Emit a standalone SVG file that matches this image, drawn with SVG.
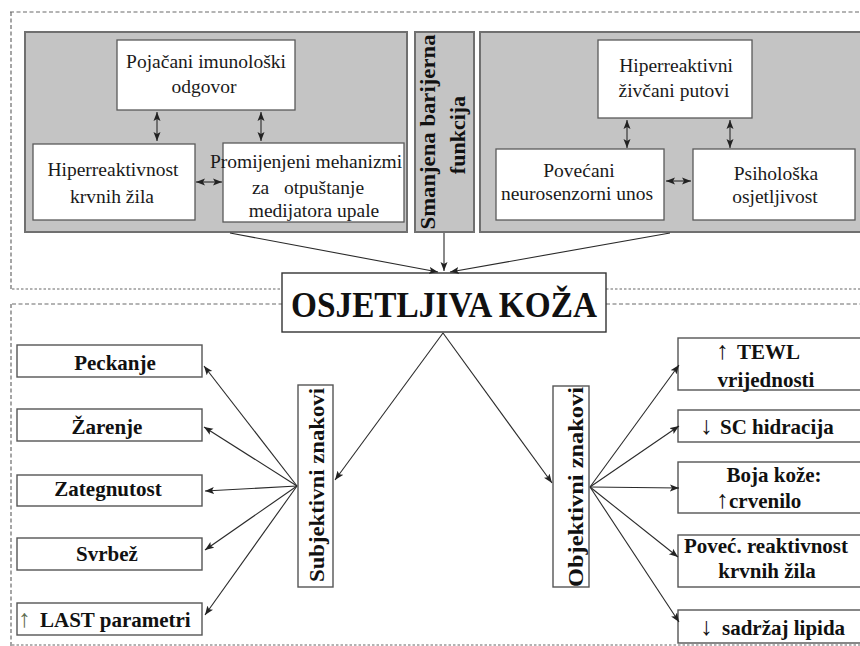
<svg xmlns="http://www.w3.org/2000/svg" width="860" height="646" viewBox="0 0 860 646">
<defs>
<marker id="ah" markerUnits="userSpaceOnUse" markerWidth="10" markerHeight="8" refX="9" refY="4" orient="auto-start-reverse" viewBox="0 0 10 8">
<path d="M0,0.5 L9,4 L0,7.5 L2,4 z" fill="#222"/>
</marker>
</defs>
<style>
.frame-d{fill:none;stroke:#6a6a6a;stroke-width:1.2;stroke-dasharray:4 2.5}
.frame-p{fill:none;stroke:#9a9a9a;stroke-width:1.6;stroke-dasharray:2.5 2}
.panel{fill:#c4c4c4;stroke:#707070;stroke-width:2}
.box{fill:#fff;stroke:#5a5a5a;stroke-width:1.3}
.bbox{fill:#fff;stroke:#555;stroke-width:1.4}
.t{font-family:"Liberation Serif","Times New Roman",serif;font-size:19.5px;fill:#1a1a1a;text-anchor:middle}
.b{font-family:"Liberation Serif","Times New Roman",serif;font-size:21px;font-weight:bold;fill:#111;text-anchor:middle}
.s{text-anchor:start}
.ar{font-weight:normal;font-size:25px}
.c{fill:none;stroke:#2a2a2a;stroke-width:1.1}
.ca{fill:none;stroke:#2a2a2a;stroke-width:1.1;marker-end:url(#ah)}
.cd{fill:none;stroke:#2a2a2a;stroke-width:1.1;marker-end:url(#ah);marker-start:url(#ah)}
</style>
<rect width="860" height="646" fill="#fff"/>
<g id="frame">
<path class="frame-d" d="M10,12 H860 M11,12 V290 M11,304 V646"/>
<path class="frame-p" d="M12,289 H282 M606,289 H860 M12,645 H860"/>
<path class="frame-d" d="M12,304 H282 M606,304 H860"/>
</g>
<g id="panel-left"><rect class="panel" x="25" y="32" width="382" height="200"/></g>
<g id="panel-barrier">
<rect class="panel" x="415" y="32" width="59" height="200"/>
<text class="b" transform="translate(435,132) rotate(-90)" textLength="195" lengthAdjust="spacingAndGlyphs" style="font-size:22px">Smanjena barijerna</text>
<text class="b" transform="translate(465,135) rotate(-90)" style="font-size:22px">funkcija</text>
</g>
<g id="panel-right"><rect class="panel" x="480" y="32" width="390" height="200"/></g>
<g id="n-imuno">
<rect class="box" x="117" y="40" width="178" height="70"/>
<text class="t" x="206" y="68">Pojačani imunološki</text>
<text class="t" x="204" y="93">odgovor</text>
</g>
<g id="n-krvne">
<rect class="box" x="33" y="144" width="162" height="76"/>
<text class="t" x="113" y="176">Hiperreaktivnost</text>
<text class="t" x="112" y="203">krvnih žila</text>
</g>
<g id="n-mehanizmi">
<rect class="box" x="223" y="143" width="181" height="79"/>
<text class="t" x="306" y="168">Promijenjeni mehanizmi</text>
<text class="t" x="308" y="194" xml:space="preserve">za   otpuštanje</text>
<text class="t" x="314" y="217">medijatora upale</text>
</g>
<g id="n-zivcani">
<rect class="box" x="598" y="40" width="154" height="78"/>
<text class="t" x="676" y="72">Hiperreaktivni</text>
<text class="t" x="674" y="97">živčani putovi</text>
</g>
<g id="n-neuro">
<rect class="box" x="496" y="149" width="168" height="71"/>
<text class="t" x="579" y="177">Povećani</text>
<text class="t" x="577" y="200">neurosenzorni unos</text>
</g>
<g id="n-psiho">
<rect class="box" x="693" y="149" width="162" height="71"/>
<text class="t" x="776" y="180">Psihološka</text>
<text class="t" x="775" y="203">osjetljivost</text>
</g>
<g id="n-title">
<rect x="282" y="273" width="324" height="59" fill="#fff" stroke="#333" stroke-width="1.4"/>
<text class="b" x="444" y="317" style="font-size:35px" textLength="306" lengthAdjust="spacingAndGlyphs">OSJETLJIVA KOŽA</text>
</g>
<g id="n-subj">
<rect class="bbox" x="298" y="385" width="35" height="202"/>
<text class="b" transform="translate(324,485) rotate(-90)" style="font-size:22px" textLength="194" lengthAdjust="spacingAndGlyphs">Subjektivni znakovi</text>
</g>
<g id="n-obj">
<rect class="bbox" x="553" y="386" width="36" height="201"/>
<text class="b" transform="translate(583,487) rotate(-90)" style="font-size:22px" textLength="200" lengthAdjust="spacingAndGlyphs">Objektivni znakovi</text>
</g>
<g id="n-peckanje"><rect class="bbox" x="17" y="345" width="185" height="32"/><text class="b" x="115" y="370">Peckanje</text></g>
<g id="n-zarenje"><rect class="bbox" x="17" y="409" width="185" height="32"/><text class="b" x="107" y="434">Žarenje</text></g>
<g id="n-zategnutost"><rect class="bbox" x="17" y="475" width="185" height="31"/><text class="b" x="108" y="496">Zategnutost</text></g>
<g id="n-svrbez"><rect class="bbox" x="17" y="538" width="185" height="32"/><text class="b" x="107" y="561">Svrbež</text></g>
<g id="n-last"><rect class="bbox" x="17" y="603" width="185" height="32"/><text class="b s" y="627"><tspan class="ar" x="18" fill="#5f6e52">↑</tspan><tspan x="40">LAST parametri</tspan></text></g>
<g id="n-tewl"><rect class="bbox" x="678" y="338" width="192" height="52"/><text class="b s" y="359"><tspan class="ar" x="716">↑</tspan><tspan x="737">TEWL</tspan></text><text class="b" x="766" y="387">vrijednosti</text></g>
<g id="n-sc"><rect class="bbox" x="678" y="410" width="192" height="32"/><text class="b s" y="434"><tspan class="ar" x="700">↓</tspan><tspan x="720">SC hidracija</tspan></text></g>
<g id="n-boja"><rect class="bbox" x="678" y="462" width="192" height="51"/><text class="b" x="774" y="482">Boja kože:</text><text class="b s" y="508"><tspan class="ar" x="716">↑</tspan><tspan x="729">crvenilo</tspan></text></g>
<g id="n-reakt"><rect class="bbox" x="678" y="535" width="192" height="52"/><text class="b" x="766" y="553">Poveć. reaktivnost</text><text class="b" x="767" y="578">krvnih žila</text></g>
<g id="n-lipidi"><rect class="bbox" x="678" y="610" width="192" height="33"/><text class="b s" y="635"><tspan class="ar" x="700">↓</tspan><tspan x="722">sadržaj lipida</tspan></text></g>
<g id="connectors">
<path class="cd" d="M157,112 V141"/>
<path class="cd" d="M261,112 V141"/>
<path class="cd" d="M196,182 H222"/>
<path class="cd" d="M627,120 V148"/>
<path class="cd" d="M730,120 V148"/>
<path class="cd" d="M666,181 H691"/>
<path class="ca" d="M230,233 L438,272"/>
<path class="ca" d="M444,233 V271"/>
<path class="ca" d="M670,233 L450,272"/>
<path class="ca" d="M443,333 L335,480"/>
<path class="ca" d="M443,333 L552,483"/>
<path class="ca" d="M297,486 L204,366"/>
<path class="ca" d="M297,486 L204,427"/>
<path class="ca" d="M297,486 L205,491"/>
<path class="ca" d="M297,486 L205,550"/>
<path class="ca" d="M297,486 L205,615"/>
<path class="ca" d="M590,487 L679,365"/>
<path class="ca" d="M590,487 L679,426"/>
<path class="ca" d="M590,487 L679,488"/>
<path class="ca" d="M590,487 L678,557"/>
<path class="ca" d="M590,487 L679,622"/>
</g>
</svg>
